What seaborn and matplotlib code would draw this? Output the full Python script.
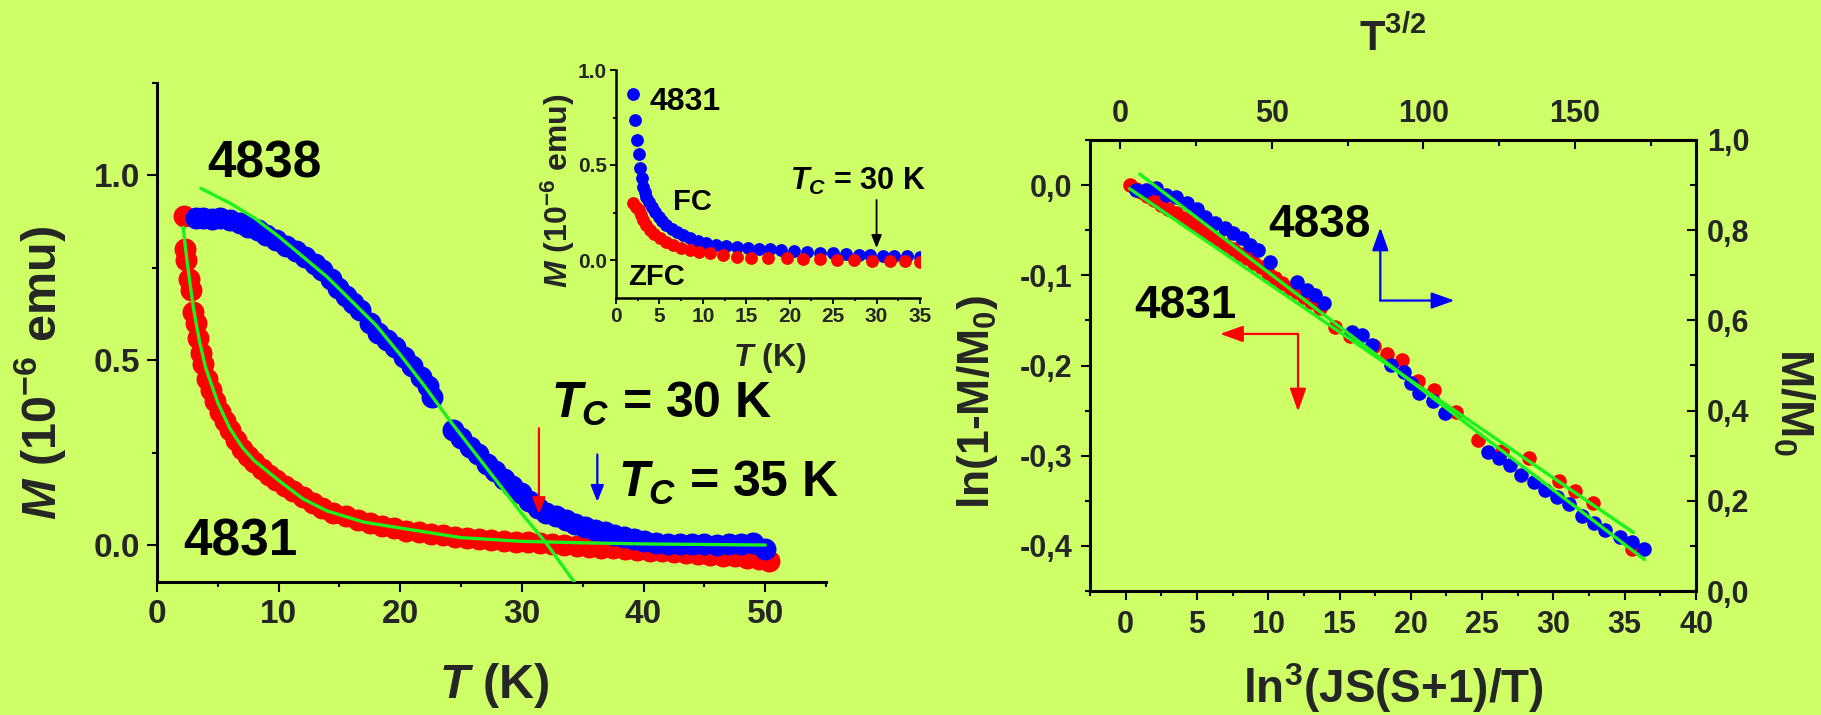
import matplotlib
matplotlib.use("Agg")
import matplotlib.pyplot as plt
import matplotlib.ticker as mticker
import seaborn as sns

# ---------------- data ----------------
# main panel, sample 4831 (red)
main_T_4831 = [2.2, 2.3, 2.4, 2.6, 2.8, 3.0, 3.2, 3.4, 3.6, 3.8, 4.1, 4.4, 4.8, 5.2, 5.6,
               6.0, 6.5, 7.0, 7.5, 8.0, 8.6, 9.2, 9.8, 10.5, 11.2, 12.0, 12.8, 13.6, 14.5, 15.5,
               16.5, 17.5, 18.5, 19.5, 20.5, 21.5, 22.5, 23.5, 24.5, 25.5, 26.5, 27.5, 28.5, 29.5,
               30.5, 31.5, 32.5, 33.5, 34.5, 35.5, 36.5, 37.5, 38.5, 39.5, 40.5, 41.5, 42.5, 43.5,
               44.5, 45.5, 46.5, 47.5, 48.5, 49.5, 50.3]
main_M_4831 = [0.89, 0.80, 0.77, 0.72, 0.69, 0.63, 0.60, 0.56, 0.52, 0.49, 0.45, 0.42, 0.39, 0.36, 0.335,
               0.31, 0.285, 0.26, 0.24, 0.225, 0.205, 0.19, 0.175, 0.16, 0.145, 0.13, 0.115, 0.10, 0.088, 0.078,
               0.068, 0.06, 0.052, 0.045, 0.039, 0.034, 0.03, 0.026, 0.022, 0.019, 0.016, 0.013, 0.011, 0.009,
               0.007, 0.005, 0.003, 0.0, -0.003, -0.005, -0.007, -0.009, -0.011, -0.013, -0.015, -0.017, -0.019, -0.022,
               -0.025, -0.027, -0.029, -0.031, -0.034, -0.037, -0.042]
# main panel, sample 4838 (blue)
main_T_4838 = [3.2, 3.8, 4.5, 5.2, 6.0, 6.8, 7.5, 8.3, 9.0, 9.8, 10.6, 11.4, 12.2, 13.0, 13.6,
               14.3, 14.9, 15.5, 16.1, 16.7, 17.5, 18.2, 18.9, 19.6, 20.3, 21.0, 21.7, 22.3, 22.6,
               24.3, 25.0, 25.7, 26.4, 27.1, 27.8, 28.5, 29.2, 29.9, 30.6, 31.3, 32.0, 32.8, 33.6, 34.4,
               35.2, 36.0, 36.8, 37.6, 38.4, 39.2, 40.0, 41.0, 42.0, 43.0, 44.0, 45.0, 46.0, 47.0, 48.0,
               49.0, 50.0]
main_M_4838 = [0.885, 0.884, 0.882, 0.885, 0.88, 0.87, 0.86, 0.852, 0.84, 0.825, 0.81, 0.795, 0.78, 0.76, 0.745,
               0.72, 0.695, 0.675, 0.655, 0.635, 0.60, 0.575, 0.555, 0.535, 0.51, 0.485, 0.455, 0.43, 0.40,
               0.31, 0.29, 0.265, 0.245, 0.22, 0.20, 0.18, 0.16, 0.14, 0.12, 0.10, 0.088, 0.078, 0.068, 0.058,
               0.05, 0.042, 0.035, 0.028, 0.022, 0.016, 0.01, 0.006, 0.004, 0.003, 0.002, 0.002, 0.001, 0.002, 0.003,
               0.005, -0.01]
# main panel fits (green)
fit_T_4831 = [2.15, 2.5, 3.0, 3.5, 4.0, 5.0, 6.0, 7.0, 8.0, 10.0, 12.0, 14.0, 17.0, 20.0, 25.0, 30.0, 35.0, 40.0, 50.0]
fit_M_4831 = [0.86, 0.76, 0.64, 0.55, 0.48, 0.385, 0.315, 0.265, 0.228, 0.175, 0.125, 0.092, 0.062, 0.046, 0.02, 0.01, 0.006, 0.003, 0.0]
fit_T_4838 = [3.6, 6.0, 8.0, 10.0, 12.0, 14.0, 16.0, 18.0, 20.0, 22.0, 24.0, 26.0, 28.0, 30.0, 32.0, 34.3]
fit_M_4838 = [0.965, 0.925, 0.885, 0.835, 0.78, 0.725, 0.66, 0.595, 0.515, 0.43, 0.34, 0.255, 0.17, 0.085, 0.005, -0.1]

# inset, sample 4831: FC (blue) and ZFC (red)
ins_T_fc = [2.0, 2.2, 2.4, 2.6, 2.75, 2.95, 3.1, 3.3, 3.5, 3.8, 4.1, 4.5, 4.9, 5.3, 5.8, 6.4, 7.0, 7.7,
            8.5, 9.4, 10.4, 11.5, 12.7, 13.9, 15.2, 16.5, 17.7, 19.0, 20.5, 22.0, 23.5, 25.0, 26.5, 28.0,
            29.3, 30.7, 32.0, 33.5, 35.0]
ins_M_fc = [0.874, 0.737, 0.632, 0.558, 0.483, 0.43, 0.386, 0.36, 0.333, 0.305, 0.28, 0.252, 0.228, 0.205,
            0.184, 0.165, 0.149, 0.13, 0.114, 0.1, 0.088, 0.079, 0.074, 0.07, 0.065, 0.06, 0.056, 0.052, 0.047,
            0.043, 0.039, 0.035, 0.031, 0.028, 0.026, 0.023, 0.021, 0.019, 0.018]
ins_T_zfc = [2.0, 2.3, 2.6, 2.9, 3.1, 3.5, 3.9, 4.4, 5.1, 5.8, 6.6, 7.5, 8.5, 9.6, 10.8, 12.3, 13.9, 15.5,
             17.5, 19.7, 21.5, 23.5, 25.5, 27.4, 29.5, 31.5, 33.3, 35.0]
ins_M_zfc = [0.298, 0.28, 0.263, 0.235, 0.21, 0.185, 0.158, 0.135, 0.114, 0.095, 0.079, 0.065, 0.053, 0.043,
             0.035, 0.026, 0.018, 0.013, 0.01, 0.009, 0.006, 0.004, 0.002, 0.0, -0.003, -0.005, -0.007, -0.009]

# right panel, 4831: ln(1-M/M0) vs ln^3(JS(S+1)/T)
r_x_4831 = [0.3, 0.7, 1.1, 1.5, 2.0, 2.5, 3.0, 3.5, 4.0, 4.5, 5.0, 5.5, 6.0, 6.5, 7.0, 7.5, 8.0, 8.5, 9.0,
            9.5, 10.0, 10.5, 11.0, 11.5, 12.0, 12.5, 13.0, 13.6, 14.7, 15.7, 17.4, 18.3, 19.4, 20.5, 21.6,
            23.2, 24.7, 26.4, 28.3, 30.4, 31.5, 32.8, 35.5]
r_y_4831 = [0.0, -0.004, -0.008, -0.012, -0.017, -0.022, -0.026, -0.031, -0.036, -0.040, -0.045, -0.050,
            -0.055, -0.060, -0.066, -0.071, -0.076, -0.081, -0.086, -0.091, -0.097, -0.103, -0.108, -0.114,
            -0.119, -0.124, -0.130, -0.136, -0.157, -0.167, -0.178, -0.187, -0.194, -0.217, -0.227, -0.252,
            -0.283, -0.295, -0.302, -0.328, -0.339, -0.352, -0.403]
# right panel, 4838: M/M0 vs T^{3/2}
r_x_4838 = [5.3, 8.6, 11.9, 15.2, 18.5, 21.9, 25.2, 27.9, 31.2, 34.5, 37.3, 40.1, 42.8, 45.6, 49.4,
            58.3, 61.6, 64.3, 67.1, 76.5, 79.8, 83.1, 89.2, 93.5, 95.8, 98.7, 103.1, 107.0,
            121.2, 125.0, 128.7, 132.2, 136.4, 140.2, 144.1, 148.2, 152.4, 156.3, 160.1, 164.8, 168.9, 173.0]
r_y_4838 = [0.889, 0.889, 0.893, 0.878, 0.874, 0.86, 0.848, 0.83, 0.815, 0.804, 0.793, 0.782, 0.767, 0.756, 0.73,
            0.686, 0.667, 0.656, 0.638, 0.575, 0.567, 0.545, 0.501, 0.486, 0.461, 0.439, 0.421, 0.395,
            0.308, 0.294, 0.279, 0.257, 0.242, 0.225, 0.209, 0.192, 0.166, 0.151, 0.135, 0.12, 0.109, 0.094]
r_fit_x_4831 = [0.28, 35.6]
r_fit_y_4831 = [-0.004, -0.385]
r_fit_x_4838 = [6.4, 173.0]
r_fit_y_4838 = [0.9245, 0.0697]

# tick values
main_xticks = [0, 10, 20, 30, 40, 50]
main_yticks = [0.0, 0.5, 1.0]
ins_xticks = [0, 5, 10, 15, 20, 25, 30, 35]
ins_yticks = [0.0, 0.5, 1.0]
r_bottom_ticks = [0, 5, 10, 15, 20, 25, 30, 35, 40]
r_left_ticks = [-0.4, -0.3, -0.2, -0.1, 0.0]
r_top_ticks = [0, 50, 100, 150]
r_right_ticks = [0.0, 0.2, 0.4, 0.6, 0.8, 1.0]

# ---------------- style ----------------
BG = "#CEFF66"
RED = "#FF0000"
BLUE = "#0000FF"
GREEN = "#1CF21C"

sns.set_theme(style="ticks")
plt.rcParams["font.family"] = ["Liberation Sans", "DejaVu Sans"]
plt.rcParams.update({
    "font.weight": "bold",
    "axes.unicode_minus": False,
    "mathtext.fontset": "custom",
    "mathtext.rm": "Liberation Sans:bold",
    "mathtext.it": "Liberation Sans:italic:bold",
    "mathtext.bf": "Liberation Sans:bold",
    "mathtext.sf": "Liberation Sans:bold",
    "axes.edgecolor": "black",
    "text.color": "black",
})

W, H = 1821, 715
fig = plt.figure(figsize=(W / 100, H / 100), dpi=100, facecolor=BG)


def rect(l, t, r, b):
    return [l / W, 1 - b / H, (r - l) / W, (b - t) / H]


def style_axes(ax, lw, maj, mnr, tw, fs, pad):
    ax.set_facecolor(BG)
    for s in ax.spines.values():
        s.set_linewidth(lw)
        s.set_color("black")
    ax.tick_params(which="major", length=maj, width=tw, labelsize=fs, pad=pad, color="black")
    ax.tick_params(which="minor", length=mnr, width=tw, color="black")


def arrow(ax, tail, tip, color, lw=1.5, ms=18, hl=0.55, hw=0.22, **kw):
    ax.annotate("", xy=tip, xytext=tail,
                arrowprops=dict(arrowstyle=f"-|>,head_length={hl},head_width={hw}",
                                color=color, lw=lw, mutation_scale=ms,
                                shrinkA=0, shrinkB=0), **kw)


# ---------------- main panel ----------------
ax = fig.add_axes(rect(157, 83, 826, 582))
sns.scatterplot(x=main_T_4831, y=main_M_4831, ax=ax, color=RED, s=250, linewidth=0, legend=False, zorder=2)
sns.scatterplot(x=main_T_4838, y=main_M_4838, ax=ax, color=BLUE, s=250, linewidth=0, legend=False, zorder=3)
sns.lineplot(x=fit_T_4831, y=fit_M_4831, ax=ax, color=GREEN, lw=2.4, sort=False, estimator=None, zorder=4)
sns.lineplot(x=fit_T_4838, y=fit_M_4838, ax=ax, color=GREEN, lw=2.4, sort=False, estimator=None, zorder=4)
ax.set_xlim(0, 55)
ax.set_ylim(-0.1, 1.25)
sns.despine(ax=ax)
style_axes(ax, 2.2, 7, 3.6, 1.5, 24, 5)
ax.set_xticks(main_xticks)
ax.set_yticks(main_yticks)
ax.xaxis.set_minor_locator(mticker.MultipleLocator(5))
ax.yaxis.set_minor_locator(mticker.MultipleLocator(0.25))
ax.yaxis.set_major_formatter(mticker.FormatStrFormatter("%.1f"))
ax.set_xlabel(r"$T$ (K)", fontsize=35, fontweight="bold", va="center")
ax.xaxis.set_label_coords(0.504, -0.208)
ax.set_ylabel(r"$M$ (10$^{-6}$ emu)", fontsize=35, fontweight="bold", va="center")
ax.yaxis.set_label_coords(-0.175, 0.42)
ax.text(4.1, 0.994, "4838", fontsize=37, fontweight="bold", ha="left", va="baseline")
ax.text(2.15, -0.027, "4831", fontsize=37, fontweight="bold", ha="left", va="baseline")
ax.text(32.4, 0.343, r"$T_C$ = 30 K", fontsize=36, fontweight="bold", ha="left", va="baseline")
ax.text(37.9, 0.131, r"$T_C$ = 35 K", fontsize=36, fontweight="bold", ha="left", va="baseline")
arrow(ax, (31.4, 0.316), (31.4, 0.084), RED, lw=1.6, ms=18)
arrow(ax, (36.2, 0.245), (36.2, 0.117), BLUE, lw=1.6, ms=18)

# ---------------- inset ----------------
axi = fig.add_axes(rect(616, 70, 920, 298))
sns.scatterplot(x=ins_T_fc, y=ins_M_fc, ax=axi, color=BLUE, s=85, linewidth=0, legend=False, zorder=2)
sns.scatterplot(x=ins_T_zfc, y=ins_M_zfc, ax=axi, color=RED, s=85, linewidth=0, legend=False, zorder=3)
axi.set_xlim(0, 35)
axi.set_ylim(-0.2, 1.0)
sns.despine(ax=axi)
style_axes(axi, 1.8, 4.5, 2.5, 1.3, 15, 2)
axi.set_xticks(ins_xticks)
axi.set_yticks(ins_yticks)
axi.xaxis.set_minor_locator(mticker.MultipleLocator(2.5))
axi.yaxis.set_minor_locator(mticker.MultipleLocator(0.25))
axi.yaxis.set_major_formatter(mticker.FormatStrFormatter("%.1f"))
axi.set_xlabel(r"$T$ (K)", fontsize=23, fontweight="bold", va="center")
axi.xaxis.set_label_coords(0.507, -0.263)
axi.set_ylabel(r"$M$ (10$^{-6}$ emu)", fontsize=23, fontweight="bold", va="center")
axi.yaxis.set_label_coords(-0.192, 0.47)
axi.text(3.9, 0.79, "4831", fontsize=23, fontweight="bold", ha="left", va="baseline")
axi.text(6.6, 0.263, "FC", fontsize=21, fontweight="bold", ha="left", va="baseline")
axi.text(1.4, -0.132, "ZFC", fontsize=21, fontweight="bold", ha="left", va="baseline")
axi.text(20.0, 0.368, r"$T_C$ = 30 K", fontsize=22, fontweight="bold", ha="left", va="baseline")
arrow(axi, (30, 0.316), (30, 0.063), "black", lw=1.3, ms=14)

# ---------------- right panel ----------------
r_rect = rect(1090, 140, 1696, 591)
ax3 = fig.add_axes(r_rect)
ax4 = fig.add_axes(r_rect, label="top_right", frameon=False)
ax4.set_zorder(ax3.get_zorder() + 1)
ax4.patch.set_visible(False)

sns.scatterplot(x=r_x_4831, y=r_y_4831, ax=ax3, color=RED, s=110, linewidth=0, legend=False, zorder=2)
sns.scatterplot(x=r_x_4838, y=r_y_4838, ax=ax4, color=BLUE, s=110, linewidth=0, legend=False, zorder=2)
sns.lineplot(x=r_fit_x_4838, y=r_fit_y_4838, ax=ax4, color=GREEN, lw=2.4, sort=False, estimator=None, zorder=4)
ax4.plot(r_fit_x_4831, r_fit_y_4831, color=GREEN, lw=2.4, zorder=4, transform=ax3.transData)

ax3.set_xlim(-2.5, 40)
ax3.set_ylim(-0.45, 0.05)
ax4.set_xlim(-10, 190)
ax4.set_ylim(0, 1)

style_axes(ax3, 2.2, 6.5, 3.5, 1.5, 22, 6)
ax3.tick_params(axis="x", which="major", pad=7)
ax3.tick_params(direction="out", which="both", top=False, right=False)
ax3.set_xticks(r_bottom_ticks)
ax3.set_yticks(r_left_ticks)
ax3.xaxis.set_minor_locator(mticker.MultipleLocator(2.5))
ax3.yaxis.set_minor_locator(mticker.MultipleLocator(0.05))
comma = mticker.FuncFormatter(lambda v, p: f"{v:.1f}".replace(".", ",").replace("-0,0", "0,0"))
ax3.yaxis.set_major_formatter(comma)

ax4.xaxis.tick_top()
ax4.yaxis.tick_right()
ax4.xaxis.set_label_position("top")
ax4.yaxis.set_label_position("right")
style_axes(ax4, 2.2, 6.5, 4.0, 1.5, 22, 8)
ax4.tick_params(direction="in", which="both", bottom=False, left=False, top=True, right=True,
                labelbottom=False, labelleft=False, labeltop=True, labelright=True)
ax4.set_xticks(r_top_ticks)
ax4.set_yticks(r_right_ticks)
ax4.xaxis.set_minor_locator(mticker.MultipleLocator(25))
ax4.yaxis.set_minor_locator(mticker.MultipleLocator(0.1))
ax4.yaxis.set_major_formatter(comma)

ax3.set_xlabel(r"ln$^3$(JS(S+1)/T)", fontsize=33, fontweight="bold", va="center")
ax3.xaxis.set_label_coords(0.5, -0.215)
ax3.set_ylabel(r"ln(1-M/M$_0$)", fontsize=32, fontweight="bold", va="center")
ax3.yaxis.set_label_coords(-0.185, 0.42)
ax4.set_xlabel(r"T$^{3/2}$", fontsize=30, fontweight="bold", va="center")
ax4.xaxis.set_label_coords(0.5, 1.224)
ax4.set_ylabel(r"M/M$_0$", fontsize=33, fontweight="bold", va="center", rotation=270)
ax4.yaxis.set_label_coords(1.16, 0.42)

ax3.text(10.0, -0.058, "4838", fontsize=33, fontweight="bold", ha="left", va="baseline")
ax3.text(0.63, -0.147, "4831", fontsize=33, fontweight="bold", ha="left", va="baseline")
arrow(ax3, (17.86, -0.128), (17.86, -0.047), BLUE, lw=1.6, ms=20, hl=0.7, hw=0.25)
arrow(ax3, (17.86, -0.128), (23.06, -0.128), BLUE, lw=1.6, ms=20, hl=0.7, hw=0.25)
arrow(ax3, (12.09, -0.165), (6.62, -0.165), RED, lw=1.6, ms=20, hl=0.7, hw=0.25)
arrow(ax3, (12.09, -0.165), (12.09, -0.251), RED, lw=1.6, ms=20, hl=0.7, hw=0.25)

fig.savefig("out.png", dpi=100, facecolor=BG)
